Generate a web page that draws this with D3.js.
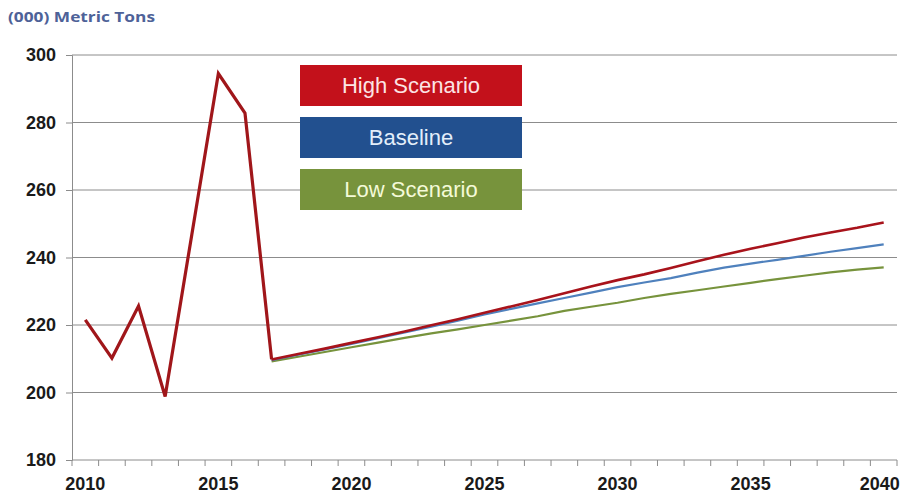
<!DOCTYPE html>
<html>
<head>
<meta charset="utf-8">
<script src="https://cdn.jsdelivr.net/npm/d3@7"></script>
<style>
  html, body { margin: 0; padding: 0; background: #fff; }
  svg { display: block; }
</style>
</head>
<body>
<svg id="chart" width="905" height="497"></svg>
<script>
// Years on the category axis
const years = d3.range(2010, 2041);
const yearLabels = [2010, 2015, 2020, 2025, 2030, 2035, 2040];
const yTicks = [180, 200, 220, 240, 260, 280, 300];

// Historical consumption, 2010-2017
const histYears = [2010, 2011, 2012, 2013, 2014, 2015, 2016, 2017];
const histValues = [221.5, 210.2, 225.6, 198.8, 246.7, 294.5, 282.8, 209.8];

// Projections, 2017-2040
const projYears = d3.range(2017, 2041);
const highValues = [209.8, 211.4, 213.0, 214.7, 216.4, 218.1, 219.9, 221.7, 223.6, 225.5, 227.4, 229.4,
                    231.4, 233.3, 235.0, 236.9, 238.9, 240.8, 242.6, 244.2, 245.9, 247.4, 248.8, 250.4];
const baseValues = [209.6, 211.2, 212.8, 214.4, 216.1, 217.8, 219.5, 221.3, 223.1, 224.8, 226.4, 228.0,
                    229.6, 231.2, 232.6, 233.9, 235.5, 237.0, 238.2, 239.3, 240.5, 241.7, 242.8, 243.9];
const lowValues  = [209.2, 210.6, 212.0, 213.4, 214.8, 216.2, 217.5, 218.7, 220.0, 221.3, 222.6, 224.2,
                    225.4, 226.6, 228.0, 229.2, 230.3, 231.4, 232.5, 233.6, 234.6, 235.6, 236.4, 237.1];

const legendNames = ["High Scenario", "Baseline", "Low Scenario"];
const legendFill = ["#C3111B", "#22508F", "#77933C"];
const legendText = ["#FCE4E4", "#E3EEFA", "#F4FAD8"];

const svg = d3.select("#chart");
const plot = { left: 72, right: 897, top: 55, bottom: 460 };

const xBand = d3.scaleBand().domain(years).range([plot.left, plot.right]).padding(0);
const x = d => xBand(d) + xBand.bandwidth() / 2;
const y = d3.scaleLinear().domain([180, 300]).range([plot.bottom, plot.top]);

// Title
svg.append("text")
  .attr("x", 8).attr("y", 22)
  .attr("font-family", "Open Sans, sans-serif")
  .attr("font-weight", "bold")
  .attr("font-size", 15)
  .attr("textLength", 147)
  .attr("lengthAdjust", "spacingAndGlyphs")
  .attr("fill", "#4E6298")
  .text("(000) Metric Tons");

// Horizontal gridlines
svg.append("g")
  .selectAll("line")
  .data(yTicks.filter(t => t !== 180))
  .join("line")
  .attr("x1", plot.left).attr("x2", plot.right)
  .attr("y1", d => y(d)).attr("y2", d => y(d))
  .attr("stroke", "#8C8C8C").attr("stroke-width", 1);

// Y axis
const yAxis = d3.axisLeft(y).tickValues(yTicks).tickSize(6).tickPadding(10);
const gy = svg.append("g").attr("transform", `translate(${plot.left},0)`).call(yAxis);
gy.select(".domain").attr("stroke", "#8C8C8C");
gy.selectAll(".tick line").attr("stroke", "#8C8C8C");
gy.selectAll(".tick text")
  .attr("font-family", "Liberation Sans Narrow, Arial Narrow, sans-serif")
  .attr("font-weight", "bold")
  .attr("font-size", 18)
  .attr("fill", "#1a1a1a");

// X axis: tick marks at category boundaries, labels every fifth year
const gx = svg.append("g");
gx.append("line")
  .attr("x1", plot.left).attr("x2", plot.right)
  .attr("y1", plot.bottom).attr("y2", plot.bottom)
  .attr("stroke", "#8C8C8C");
gx.selectAll("line.tk")
  .data(years.concat([null]))
  .join("line")
  .attr("class", "tk")
  .attr("x1", d => d === null ? plot.right : xBand(d))
  .attr("x2", d => d === null ? plot.right : xBand(d))
  .attr("y1", plot.bottom).attr("y2", plot.bottom + 6)
  .attr("stroke", "#8C8C8C");
gx.selectAll("text")
  .data(yearLabels)
  .join("text")
  .attr("x", d => d === 2040 ? x(d) - 4 : x(d))
  .attr("y", 490)
  .attr("text-anchor", "middle")
  .attr("font-family", "Liberation Sans Narrow, Arial Narrow, sans-serif")
  .attr("font-weight", "bold")
  .attr("font-size", 18)
  .attr("fill", "#1a1a1a")
  .text(d => d);

// Lines
const line = d3.line().x(d => x(d[0])).y(d => y(d[1]));
const series = [
  { years: projYears, values: lowValues, color: "#77933C", width: 2.2 },
  { years: projYears, values: baseValues, color: "#4F81BD", width: 2.2 },
  { years: projYears, values: highValues, color: "#A8131B", width: 2.6 },
  { years: histYears, values: histValues, color: "#A0161A", width: 3.2 }
];
svg.append("g")
  .selectAll("path")
  .data(series)
  .join("path")
  .attr("d", s => line(s.years.map((yr, i) => [yr, s.values[i]])))
  .attr("fill", "none")
  .attr("stroke", s => s.color)
  .attr("stroke-width", s => s.width)
  .attr("stroke-linejoin", "miter")
  .attr("stroke-linecap", "butt");

// Legend boxes
const lg = svg.append("g").selectAll("g")
  .data(legendNames)
  .join("g")
  .attr("transform", (d, i) => `translate(300,${65 + i * 52})`);
lg.append("rect")
  .attr("width", 222).attr("height", 41)
  .attr("fill", (d, i) => legendFill[i]);
lg.append("text")
  .attr("x", 111).attr("y", 28)
  .attr("text-anchor", "middle")
  .attr("font-family", "Liberation Sans, Arial, sans-serif")
  .attr("font-size", 22)
  .attr("fill", (d, i) => legendText[i])
  .text(d => d);
</script>
</body>
</html>
